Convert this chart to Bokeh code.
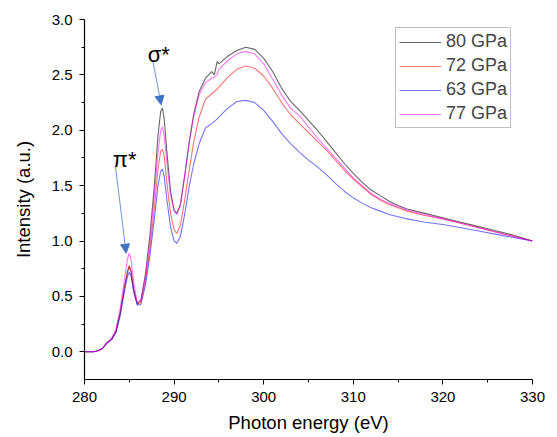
from bokeh.plotting import figure
from bokeh.models import (Range1d, FixedTicker, PrintfTickFormatter, Legend, LegendItem,
                          Arrow, NormalHead, Label)
from bokeh.embed import file_html
from bokeh.resources import INLINE

# ---- data ----
energy = [280, 281, 281.5, 282, 282.5, 283, 283.5, 284, 284.5, 284.8, 285.0, 285.2, 285.5,
          285.9, 286.3, 286.8, 287.3, 287.8, 288.2, 288.5, 288.7, 288.9, 289.2, 289.6,
          290.0, 290.3, 290.7, 291.2, 291.7, 292.2, 292.8, 293.5, 294.2, 294.5, 294.8,
          295, 296, 297, 298, 299, 300, 301, 302, 303, 304, 305, 306, 307, 308, 309,
          310, 311, 312, 313, 314, 315, 316, 318, 320, 322, 324, 326, 328, 330]

i_80 = [0.0, 0.0, 0.01, 0.03, 0.08, 0.11, 0.18, 0.36, 0.60, 0.72, 0.77, 0.72, 0.55,
        0.43, 0.47, 0.70, 1.05, 1.50, 1.95, 2.17, 2.20, 2.10, 1.80, 1.45,
        1.28, 1.25, 1.33, 1.60, 1.90, 2.15, 2.35, 2.47, 2.53, 2.50, 2.62,
        2.60, 2.67, 2.72, 2.75, 2.73, 2.65, 2.53, 2.38, 2.26, 2.18, 2.09, 2.00, 1.90, 1.80, 1.70,
        1.61, 1.53, 1.46, 1.41, 1.36, 1.32, 1.29, 1.25, 1.21, 1.17, 1.13, 1.09, 1.05, 1.00]

i_72 = [0.0, 0.0, 0.01, 0.03, 0.08, 0.11, 0.18, 0.36, 0.60, 0.73, 0.78, 0.73, 0.56,
        0.43, 0.45, 0.64, 0.93, 1.30, 1.65, 1.81, 1.83, 1.76, 1.52, 1.25,
        1.10, 1.07, 1.14, 1.38, 1.65, 1.90, 2.12, 2.28, 2.33, 2.35, 2.37,
        2.39, 2.48, 2.55, 2.58, 2.56, 2.49, 2.38, 2.25, 2.14, 2.06, 1.98, 1.90, 1.82, 1.73, 1.64,
        1.56, 1.49, 1.42, 1.37, 1.33, 1.30, 1.27, 1.23, 1.20, 1.16, 1.12, 1.08, 1.04, 1.00]

i_63 = [0.0, 0.0, 0.01, 0.03, 0.08, 0.11, 0.17, 0.33, 0.56, 0.68, 0.72, 0.68, 0.54,
        0.42, 0.43, 0.60, 0.87, 1.20, 1.50, 1.63, 1.65, 1.58, 1.37, 1.13,
        1.00, 0.98, 1.04, 1.25, 1.50, 1.70, 1.88, 2.02, 2.06, 2.08, 2.10,
        2.12, 2.20, 2.26, 2.27, 2.25, 2.18, 2.08, 1.97, 1.88, 1.80, 1.73, 1.67, 1.60, 1.52, 1.45,
        1.39, 1.34, 1.30, 1.27, 1.24, 1.22, 1.20, 1.17, 1.15, 1.12, 1.09, 1.06, 1.03, 1.00]

i_77 = [0.0, 0.0, 0.01, 0.03, 0.08, 0.12, 0.20, 0.40, 0.68, 0.84, 0.89, 0.83, 0.62,
        0.44, 0.47, 0.68, 1.00, 1.42, 1.80, 2.00, 2.03, 1.95, 1.70, 1.42,
        1.27, 1.24, 1.32, 1.60, 1.90, 2.13, 2.32, 2.43, 2.47, 2.48, 2.50,
        2.55, 2.63, 2.69, 2.71, 2.69, 2.60, 2.46, 2.32, 2.20, 2.13, 2.03, 1.93, 1.84, 1.75, 1.66,
        1.57, 1.50, 1.43, 1.38, 1.34, 1.31, 1.28, 1.24, 1.20, 1.16, 1.12, 1.08, 1.04, 1.00]

series_labels = ["80 GPa", "72 GPa", "63 GPa", "77 GPa"]
series_values = [i_80, i_72, i_63, i_77]
x_ticks = [280, 290, 300, 310, 320, 330]
x_minor = [285, 295, 305, 315, 325]
y_ticks = [0.0, 0.5, 1.0, 1.5, 2.0, 2.5, 3.0]
y_minor = [0.25, 0.75, 1.25, 1.75, 2.25, 2.75]

colors = ["#000000", "#FF0000", "#0000FF", "#FF00FF"]
alphas = [0.6, 0.55, 0.55, 0.55]

FONT = "Liberation Sans"

p = figure(width=549, height=436, output_backend="svg", toolbar_location=None,
           x_range=Range1d(280, 330), y_range=Range1d(-0.25, 3.0),
           min_border_left=84, min_border_right=17, min_border_top=19, min_border_bottom=57)
p.outline_line_color = None
p.xgrid.visible = False
p.ygrid.visible = False
p.background_fill_color = "white"
p.border_fill_color = "white"

items = []
for lab, vals, c, a in zip(series_labels, series_values, colors, alphas):
    r = p.line(energy, vals, line_color=c, line_width=1.1, line_alpha=a)
    items.append(LegendItem(label=lab, renderers=[r]))

legend = Legend(items=items, location=(311, 251), border_line_color="#808080",
                border_line_width=1, padding=3, margin=0, spacing=3,
                glyph_width=42, glyph_height=20, label_height=20, label_standoff=5,
                label_text_font=FONT, label_text_font_size="18px",
                background_fill_alpha=1.0)
p.add_layout(legend, "center")

for ax in (p.xaxis[0], p.yaxis[0]):
    ax.axis_line_color = "black"
    ax.axis_line_width = 1.2
    ax.major_tick_line_color = "black"
    ax.minor_tick_line_color = "black"
    ax.major_tick_out = 5
    ax.major_tick_in = 0
    ax.minor_tick_out = 3
    ax.minor_tick_in = 0
    ax.major_label_text_font = FONT
    ax.major_label_text_font_size = "15px"
    ax.major_label_text_color = "black"
    ax.axis_label_text_font = FONT
    ax.axis_label_text_font_size = "18.5px"
    ax.axis_label_text_font_style = "normal"
    ax.axis_label_text_color = "black"

p.xaxis[0].ticker = FixedTicker(ticks=x_ticks, minor_ticks=x_minor)
p.yaxis[0].ticker = FixedTicker(ticks=y_ticks, minor_ticks=y_minor)
p.yaxis[0].formatter = PrintfTickFormatter(format="%.1f")
p.xaxis[0].axis_label = "Photon energy (eV)"
p.yaxis[0].axis_label = "Intensity (a.u.)"
p.xaxis[0].major_label_standoff = 7
p.xaxis[0].axis_label_standoff = 7
p.yaxis[0].major_label_standoff = 7
p.yaxis[0].axis_label_standoff = 15

arrow_col = "#4472C4"
p.add_layout(Arrow(end=NormalHead(size=9, fill_color=arrow_col, line_color=arrow_col),
                   x_start=287.62, y_start=2.63, x_end=288.56, y_end=2.23,
                   line_color="#7094d6", line_width=1))
p.add_layout(Arrow(end=NormalHead(size=9, fill_color=arrow_col, line_color=arrow_col),
                   x_start=283.46, y_start=1.67, x_end=284.65, y_end=0.89,
                   line_color="#7094d6", line_width=1))

p.add_layout(Label(x=287.05, y=2.68, text="σ*", text_font=FONT, text_font_size="22px",
                   text_baseline="alphabetic", text_color="black"))
p.add_layout(Label(x=283.15, y=1.74, text="π*", text_font=FONT, text_font_size="22px",
                   text_baseline="alphabetic", text_color="black"))

open("out.html", "w").write(file_html(p, INLINE))
